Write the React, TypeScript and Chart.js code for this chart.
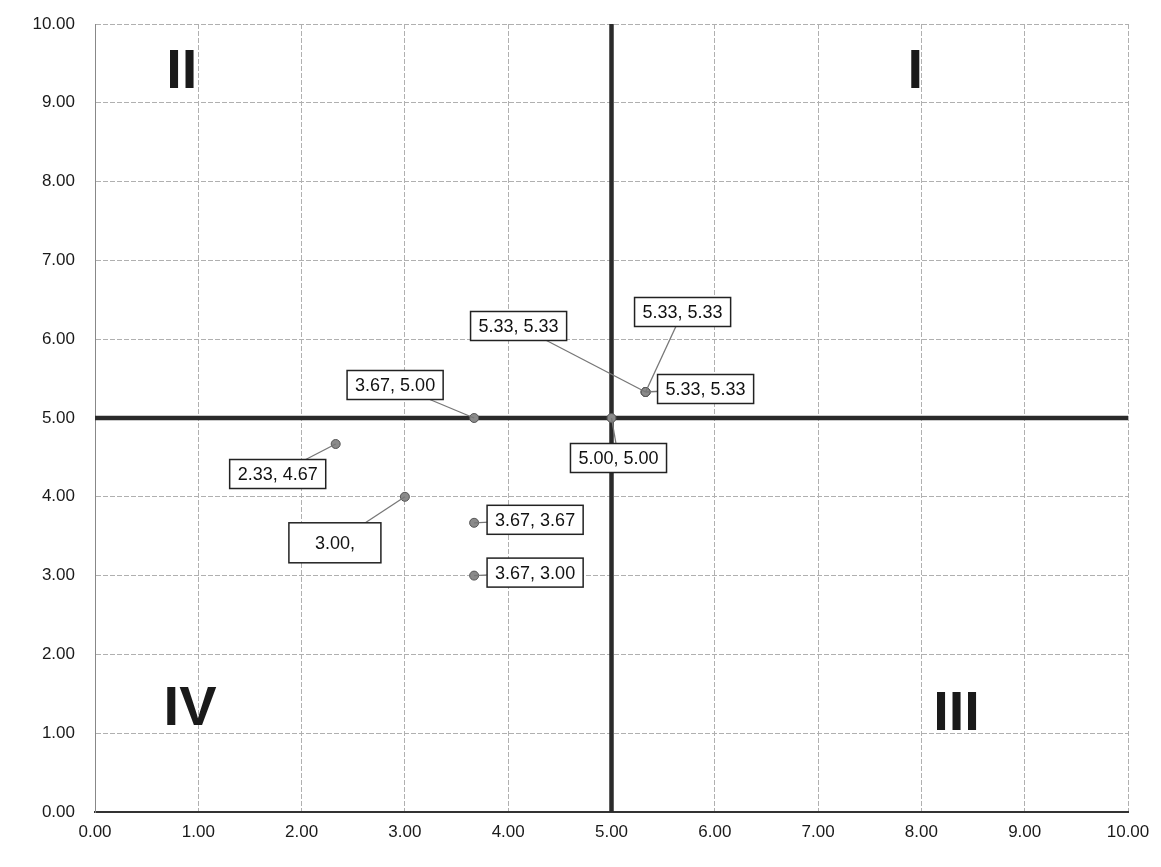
import React, { useEffect, useRef } from "react";
import { Chart, registerables } from "chart.js";

Chart.register(...registerables);

// Data points (x, y)
const pointX = [2.33, 3.0, 3.67, 3.67, 3.67, 5.0, 5.33, 5.33, 5.33];
const pointY = [4.67, 4.0, 3.67, 3.0, 5.0, 5.0, 5.33, 5.33, 5.33];
// Data label texts (one is truncated in the original)
const pointLabels = [
  "2.33, 4.67",
  "3.00,",
  "3.67, 3.67",
  "3.67, 3.00",
  "3.67, 5.00",
  "5.00, 5.00",
  "5.33, 5.33",
  "5.33, 5.33",
  "5.33, 5.33",
];
// Label box offsets from each point, in pixels
const labelDX = [-58, -70, 61, 61, -79, 7, -127, 37, 60];
const labelDY = [30, 46, -3, -3, -33, 40, -66, -80, -3];

// Quadrant divider lines
const hLineX = [0, 10];
const hLineY = [5, 5];
const vLineX = [5, 5];
const vLineY = [0, 10];

// Quadrant names and anchors (data units)
const quadNames = ["II", "I", "IV", "III"];
const quadX = [0.84, 7.94, 0.92, 8.34];
const quadY = [9.38, 9.38, 1.3, 1.24];

const FONT = "'Liberation Sans', Arial, sans-serif";

const labelPlugin = {
  id: "pointLabels",
  afterDatasetsDraw(chart: any) {
    const ctx = chart.ctx;
    const xs = chart.scales.x;
    const ys = chart.scales.y;
    ctx.save();
    // quadrant names
    ctx.font = `bold 56px ${FONT}`;
    ctx.fillStyle = "#1a1a1a";
    ctx.textAlign = "center";
    ctx.textBaseline = "middle";
    quadNames.forEach((n, i) => {
      ctx.fillText(n, xs.getPixelForValue(quadX[i]), ys.getPixelForValue(quadY[i]));
    });
    // point labels
    const meta = chart.getDatasetMeta(0);
    ctx.font = `18px ${FONT}`;
    meta.data.forEach((el: any, i: number) => {
      const px = el.x;
      const py = el.y;
      const cx = px + labelDX[i];
      const cy = py + labelDY[i];
      const txt = pointLabels[i];
      const tw = ctx.measureText(txt).width;
      const w = i === 1 ? 92 : tw + 16;
      const h = i === 1 ? 40 : 29;
      ctx.strokeStyle = "#777";
      ctx.lineWidth = 1.3;
      ctx.beginPath();
      ctx.moveTo(px, py);
      ctx.lineTo(cx, cy);
      ctx.stroke();
      ctx.fillStyle = "#fff";
      ctx.fillRect(cx - w / 2, cy - h / 2, w, h);
      ctx.strokeStyle = "#222";
      ctx.lineWidth = 1.5;
      ctx.strokeRect(cx - w / 2, cy - h / 2, w, h);
      ctx.fillStyle = "#111";
      ctx.textAlign = "center";
      ctx.textBaseline = "middle";
      ctx.fillText(txt, cx, cy + 1);
    });
    ctx.restore();
  },
};

export default function App() {
  const ref = useRef<HTMLCanvasElement | null>(null);
  useEffect(() => {
    document.body.style.margin = "0";
    document.body.style.background = "#fff";
    const canvas = ref.current;
    if (!canvas) return;
    const chart = new Chart(canvas, {
      type: "scatter",
      data: {
        datasets: [
          {
            label: "points",
            data: pointX.map((x, i) => ({ x, y: pointY[i] })),
            pointRadius: 4.5,
            pointBackgroundColor: "#8a8a8a",
            pointBorderColor: "#555",
            pointBorderWidth: 1,
            showLine: false,
            order: 0,
          },
          {
            label: "h",
            data: hLineX.map((x, i) => ({ x, y: hLineY[i] })),
            showLine: true,
            borderColor: "#2a2a2a",
            borderWidth: 4.5,
            pointRadius: 0,
            order: 1,
          },
          {
            label: "v",
            data: vLineX.map((x, i) => ({ x, y: vLineY[i] })),
            showLine: true,
            borderColor: "#2a2a2a",
            borderWidth: 4.5,
            pointRadius: 0,
            order: 1,
          },
        ],
      },
      options: {
        responsive: false,
        animation: false,
        layout: { padding: { top: 24, right: 33, left: 0, bottom: 0 } },
        plugins: { legend: { display: false }, tooltip: { enabled: false } },
        scales: {
          x: {
            type: "linear",
            min: 0,
            max: 10,
            afterFit: (s: any) => {
              s.height = 55;
            },
            ticks: {
              stepSize: 1,
              padding: 10,
              color: "#1a1a1a",
              font: { family: FONT, size: 17 },
              callback: (v: any) => Number(v).toFixed(2),
            },
            grid: { color: "#b0b0b0", lineWidth: 1, drawTicks: false },
            border: { color: "#333", width: 2, dash: [5, 2] },
          },
          y: {
            type: "linear",
            min: 0,
            max: 10,
            afterFit: (s: any) => {
              s.width = 95;
              s.paddingTop = 0;
              s.paddingBottom = 0;
            },
            ticks: {
              stepSize: 1,
              padding: 20,
              color: "#1a1a1a",
              font: { family: FONT, size: 17 },
              callback: (v: any) => Number(v).toFixed(2),
            },
            grid: { color: "#b0b0b0", lineWidth: 1, drawTicks: false },
            border: { color: "#888", width: 1, dash: [5, 2] },
          },
        },
      },
      plugins: [labelPlugin],
    } as any);
    return () => chart.destroy();
  }, []);
  return (
    <div style={{ position: "absolute", left: 0, top: 0, width: 1161, height: 867, background: "#fff" }}>
      <canvas ref={ref} width={1161} height={867} style={{ display: "block" }} />
    </div>
  );
}
